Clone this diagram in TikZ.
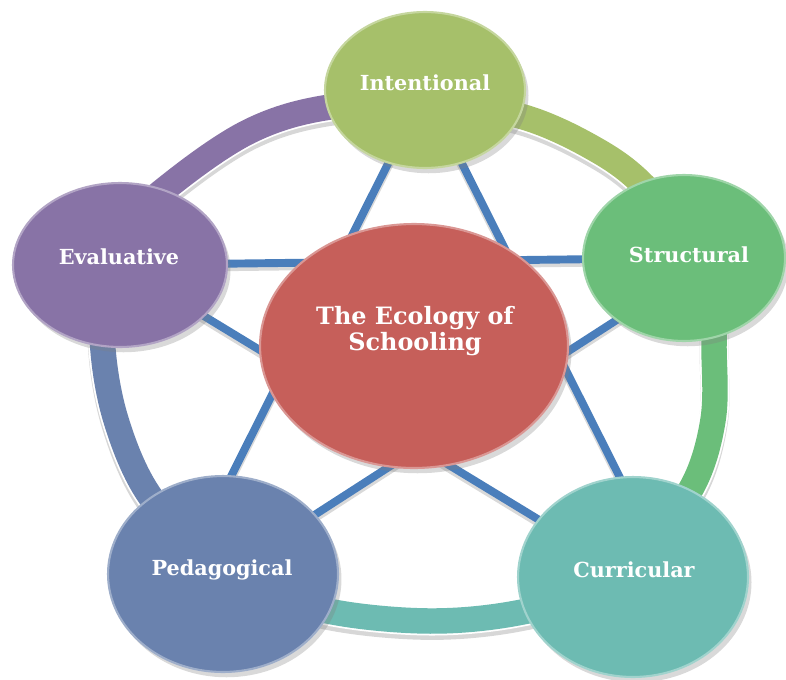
\documentclass[tikz,border=0pt]{standalone}
\usepackage{fontspec}
\newfontfamily\discfont{DejaVu Serif}
\usetikzlibrary{shapes.geometric,calc,shadows}
\definecolor{intent}{HTML}{A6C06A}
\definecolor{struct}{HTML}{6BBE7A}
\definecolor{curric}{HTML}{6DBBB2}
\definecolor{pedag}{HTML}{6A82AE}
\definecolor{evalu}{HTML}{8873A6}
\definecolor{core}{HTML}{C65F5A}
\definecolor{star}{HTML}{4A7EBB}
\pgfdeclarelayer{back}
\pgfsetlayers{back,main}

\begin{document}
\begin{tikzpicture}[
  x=0.02cm, y=-0.02cm,
  disc/.style={ellipse, fill=#1, draw=#1!65!white, line width=1.2pt, inner sep=0pt,
    drop shadow={opacity=.3, shadow xshift=2pt, shadow yshift=-3pt}},
  word/.style={text=white, font=\discfont\fontsize{11.8}{13}\selectfont\bfseries,
    inner sep=0pt, align=center},
  link/.style={draw=star, line width=4.5pt},
  band/.style={draw=#1, line width=14.5pt}
]
  \useasboundingbox (0,0) rectangle (786,679);
  \coordinate (hub) at (410,360);

  % discs
  \node[disc=core, minimum width=6.16cm, minimum height=4.88cm] (ecology) at (414,346) {};
  \node[disc=intent, minimum width=4cm, minimum height=3.12cm] (intentional) at (425,90) {};
  \node[disc=struct, minimum width=4.04cm, minimum height=3.32cm] (structural) at (684,258) {};
  \node[disc=curric, minimum width=4.6cm, minimum height=4cm] (curricular) at (633,577) {};
  \node[disc=pedag, minimum width=4.6cm, minimum height=3.92cm] (pedagogical) at (223,574) {};
  \node[disc=evalu, minimum width=4.28cm, minimum height=3.28cm] (evaluative) at (120,265) {};

  \node[word, font=\discfont\fontsize{13.6}{14.5}\selectfont\bfseries] (ecology-text) at (415,331)
    {The Ecology of\\Schooling};
  \node[word] (intentional-text) at (425,83) {Intentional};
  \node[word] (structural-text) at (689,255) {Structural};
  \node[word] (curricular-text) at (634,570) {Curricular};
  \node[word] (pedagogical-text) at (222,570) {Pedagogical};
  \node[word] (evaluative-text) at (119,257) {Evaluative};

  \begin{pgfonlayer}{back}
    % ring, one colour per arc
    \foreach \from/\to/\col in {intentional/structural/intent, structural/curricular/struct,
        curricular/pedagogical/curric, pedagogical/evaluative/pedag, evaluative/intentional/evalu} {
      \begin{scope}
        \clip (hub) -- ($(hub)!4!(\from.center)$) -- ($(hub)!4!(\to.center)$) -- cycle;
        \draw[gray!70, line width=16.5pt, opacity=.45, transform canvas={yshift=-2.5pt}]
          plot[smooth cycle, tension=.6] coordinates {(425,104) (520,116) (600,152) (650,192)
          (692,250) (712,310) (714,350) (713,420) (692,487) (645,545) (585,592) (517,613)
          (430,621) (333,612) (265,590) (195,545) (146,490) (116,420) (103,350) (105,290)
          (125,230) (170,185) (250,131) (330,107)};
        \draw[white, line width=16.5pt]
          plot[smooth cycle, tension=.6] coordinates {(425,104) (520,116) (600,152) (650,192)
          (692,250) (712,310) (714,350) (713,420) (692,487) (645,545) (585,592) (517,613)
          (430,621) (333,612) (265,590) (195,545) (146,490) (116,420) (103,350) (105,290)
          (125,230) (170,185) (250,131) (330,107)};
        \draw[band=\col]
          plot[smooth cycle, tension=.6] coordinates {(425,104) (520,116) (600,152) (650,192)
          (692,250) (712,310) (714,350) (713,420) (692,487) (645,545) (585,592) (517,613)
          (430,621) (333,612) (265,590) (195,545) (146,490) (116,420) (103,350) (105,290)
          (125,230) (170,185) (250,131) (330,107)};
      \end{scope}
    }
    % star
    \begin{scope}[transform canvas={yshift=-2pt}]
      \draw[link, draw=gray, opacity=.3] (intentional.center) -- ($(pedagogical.center)+(-41,0)$);
      \draw[link, draw=gray, opacity=.3] (intentional.center) -- ($(curricular.center)+(37,0)$);
      \draw[link, draw=gray, opacity=.3] (evaluative.center) -- (structural.center);
      \draw[link, draw=gray, opacity=.3] (evaluative.center) -- (curricular.center);
      \draw[link, draw=gray, opacity=.3] ($(structural.center)+(21,5)$) -- (pedagogical.center);
    \end{scope}
    \draw[link] (intentional.center) -- ($(pedagogical.center)+(-41,0)$);
    \draw[link] (intentional.center) -- ($(curricular.center)+(37,0)$);
    \draw[link] (evaluative.center) -- (structural.center);
    \draw[link] (evaluative.center) -- (curricular.center);
    \draw[link] ($(structural.center)+(21,5)$) -- (pedagogical.center);
  \end{pgfonlayer}
\end{tikzpicture}
\end{document}
